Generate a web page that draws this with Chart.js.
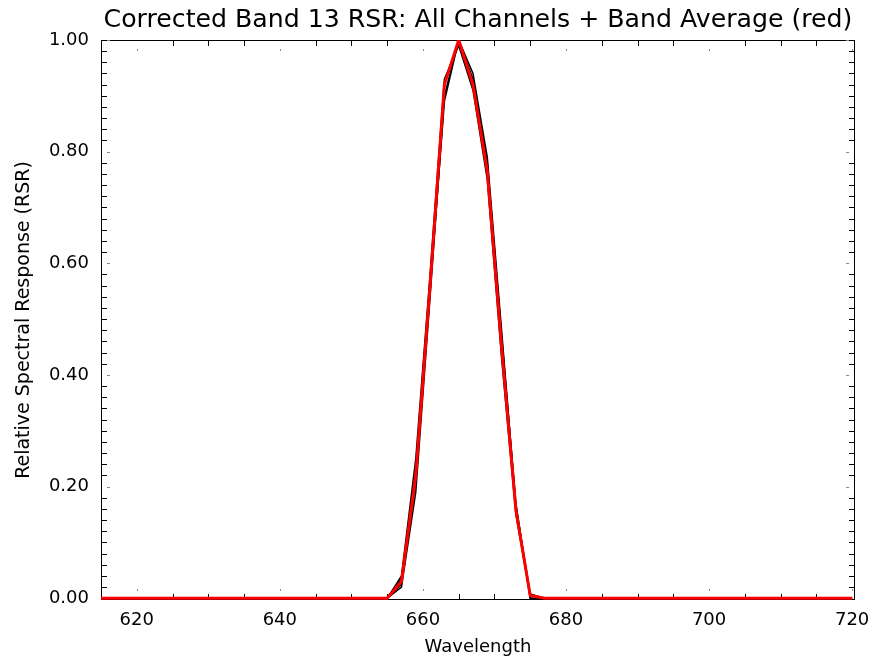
<!DOCTYPE html>
<html>
<head>
<meta charset="utf-8">
<script src="https://cdn.jsdelivr.net/npm/chart.js@4/dist/chart.umd.min.js"></script>
<style>
  html, body { margin: 0; padding: 0; background: #fff; }
  #wrap { width: 872px; height: 657px; position: relative; }
</style>
</head>
<body>
<div id="wrap"><canvas id="c" width="872" height="657"></canvas></div>
<script>
// ---- data ----
const titleText = 'Corrected Band 13 RSR: All Channels + Band Average (red)';
const xLabel = 'Wavelength';
const yLabel = 'Relative Spectral Response (RSR)';

const wavelength = [615, 653, 655, 657, 659, 661, 663, 665, 667, 669, 671, 673, 675, 677, 679, 720];
const bandAverage = [0, 0, 0, 0.03, 0.22, 0.56, 0.92, 1.0, 0.92, 0.765, 0.45, 0.158, 0.005, 0, 0, 0];
const channel1 = [0, 0, 0, 0.02, 0.19, 0.54, 0.90, 1.0, 0.93, 0.78, 0.47, 0.17, 0.0, 0, 0, 0];
const channel2 = [0, 0, 0, 0.04, 0.25, 0.58, 0.93, 0.99, 0.91, 0.75, 0.43, 0.15, 0.005, 0, 0, 0];
const channel3 = [0, 0, 0, 0.025, 0.21, 0.55, 0.89, 1.0, 0.94, 0.79, 0.48, 0.165, 0.008, 0, 0, 0];
const channel4 = [0, 0, 0, 0.035, 0.23, 0.57, 0.92, 1.0, 0.92, 0.77, 0.455, 0.16, 0.0, 0, 0, 0];

const xTickValues = [620, 640, 660, 680, 700, 720];
const yTickValues = [0, 0.2, 0.4, 0.6, 0.8, 1.0];
const xMinorStep = 5;
const yMinorStep = 0.02;

// ---- build ----
const toPts = arr => wavelength.map((w, i) => ({x: w, y: arr[i]}));
const channels = [channel1, channel2, channel3, channel4];

const datasets = [{
  label: 'Band Average',
  data: toPts(bandAverage),
  borderColor: '#ff0000',
  borderWidth: 3,
  pointRadius: 0,
  tension: 0,
  order: 0
}].concat(channels.map((c, k) => ({
  label: 'Channel ' + (k + 1),
  data: toPts(c),
  borderColor: '#000000',
  borderWidth: 1.5,
  pointRadius: 0,
  tension: 0,
  order: 1
})));

const framePlugin = {
  id: 'frame',
  beforeDatasetsDraw(chart) {
    const {ctx, chartArea: a, scales: {x, y}} = chart;
    ctx.save();
    ctx.strokeStyle = '#000';
    ctx.lineWidth = 1;
    ctx.strokeRect(Math.round(a.left) + 0.5, Math.round(a.top) + 0.5,
                   Math.round(a.right - a.left) - 1, Math.round(a.bottom - a.top) - 1);
    const minorLen = 6;
    for (let v = Math.ceil(x.min / xMinorStep) * xMinorStep; v <= x.max + 1e-9; v += xMinorStep) {
      const px = Math.round(x.getPixelForValue(v)) + 0.5;
      const isMajor = xTickValues.some(t => Math.abs(t - v) < 1e-6);
      ctx.strokeStyle = isMajor ? '#888' : '#000';
      ctx.beginPath();
      if (isMajor) {
        ctx.moveTo(px, a.bottom - 9); ctx.lineTo(px, a.bottom - 11);
        ctx.moveTo(px, a.top + 9); ctx.lineTo(px, a.top + 11);
      } else {
        ctx.moveTo(px, a.bottom); ctx.lineTo(px, a.bottom - minorLen);
        ctx.moveTo(px, a.top); ctx.lineTo(px, a.top + minorLen);
      }
      ctx.stroke();
    }
    const nY = Math.round(1 / yMinorStep);
    for (let i = 0; i <= nY; i++) {
      const v = i * yMinorStep;
      const py = Math.round(y.getPixelForValue(v)) + 0.5;
      const isMajor = yTickValues.some(t => Math.abs(t - v) < 1e-6);
      ctx.strokeStyle = isMajor ? '#888' : '#000';
      ctx.beginPath();
      if (isMajor) {
        ctx.moveTo(a.left + 6, py); ctx.lineTo(a.left + 9, py);
        ctx.moveTo(a.right - 6, py); ctx.lineTo(a.right - 9, py);
      } else {
        ctx.moveTo(a.left, py); ctx.lineTo(a.left + minorLen, py);
        ctx.moveTo(a.right, py); ctx.lineTo(a.right - minorLen, py);
      }
      ctx.stroke();
    }
    ctx.restore();
  },
  afterDraw(chart) {
    const {ctx, chartArea: a} = chart;
    ctx.save();
    let size = 22;
    ctx.font = size + "px 'DejaVu Sans', sans-serif";
    const w = ctx.measureText(titleText).width;
    size = Math.max(16, Math.min(26, size * 750 / w));
    ctx.font = size.toFixed(1) + "px 'DejaVu Sans', sans-serif";
    ctx.fillStyle = '#000';
    ctx.textAlign = 'center';
    ctx.textBaseline = 'middle';
    ctx.fillText(titleText, (a.left + a.right) / 2, 20);
    ctx.restore();
  }
};

new Chart(document.getElementById('c'), {
  type: 'line',
  data: { datasets },
  options: {
    responsive: false,
    animation: false,
    layout: { padding: { top: 40, right: 17, left: 0, bottom: 0 } },
    plugins: { legend: { display: false }, tooltip: { enabled: false }, title: { display: false } },
    scales: {
      x: {
        type: 'linear',
        min: 615,
        max: 720.4,
        afterBuildTicks: s => { s.ticks = xTickValues.map(v => ({value: v})); },
        afterFit: s => { s.height = 57; s.paddingLeft = 0; s.paddingRight = 0; },
        grid: { display: false, drawTicks: false },
        border: { display: false },
        ticks: {
          color: '#000',
          padding: 10,
          maxRotation: 0,
          font: { family: "'DejaVu Sans', sans-serif", size: 18 },
          callback: v => String(v)
        },
        title: {
          display: true, text: xLabel, color: '#000',
          padding: { top: 0, bottom: 0 },
          font: { family: "'DejaVu Sans', sans-serif", size: 18, lineHeight: 1.1 }
        }
      },
      y: {
        type: 'linear',
        min: -0.003,
        max: 1.0,
        afterBuildTicks: s => { s.ticks = yTickValues.map(v => ({value: v})); },
        afterFit: s => { s.width = 101; s.paddingTop = 0; s.paddingBottom = 0; },
        grid: { display: false, drawTicks: false },
        border: { display: false },
        ticks: {
          color: '#000',
          padding: 12,
          font: { family: "'DejaVu Sans', sans-serif", size: 18 },
          callback: v => Number(v).toFixed(2)
        },
        title: {
          display: true, text: yLabel, color: '#000',
          padding: { top: 13, bottom: 0 },
          font: { family: "'DejaVu Sans', sans-serif", size: 19, lineHeight: 1.2 }
        }
      }
    }
  },
  plugins: [framePlugin]
});
</script>
</body>
</html>
